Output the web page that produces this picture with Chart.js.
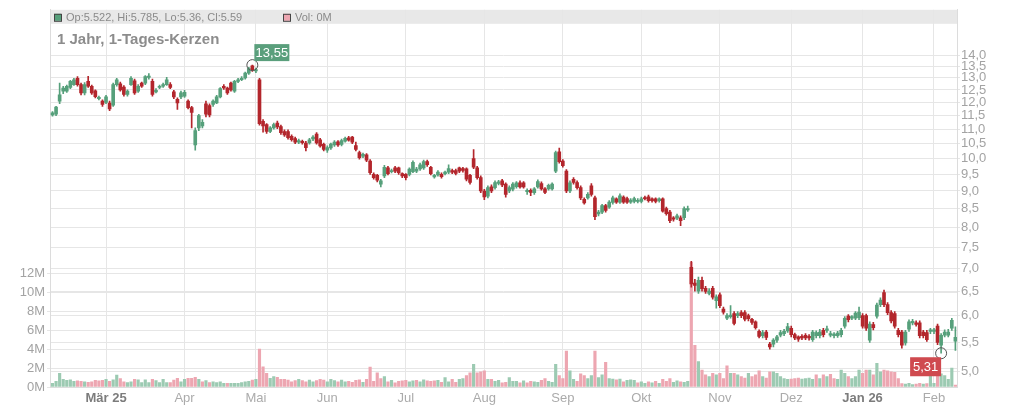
<!DOCTYPE html>
<html lang="de">
<head>
<meta charset="utf-8">
<title>1 Jahr, 1-Tages-Kerzen</title>
<script src="https://cdn.jsdelivr.net/npm/chart.js@4.4.1/dist/chart.umd.min.js"></script>
<style>
  html, body { margin: 0; padding: 0; background: #fff; }
  #wrap { width: 1024px; height: 409px; }
</style>
</head>
<body>
<div id="wrap"><canvas id="kerzen" width="1024" height="409"></canvas></div>
<script>
// Tageskerzen: Eroeffnung, Hoch, Tief, Schluss (EUR) und Volumen (Mio.)
var open = [
  11.52, 11.55, 12.05, 12.45, 12.45, 12.60, 12.72, 12.98, 12.72, 12.38,
  12.85, 12.65, 12.46, 12.15, 12.05, 12.00, 11.98, 11.90, 12.72, 12.75,
  12.62, 12.32, 12.72, 12.88, 12.45, 12.78, 12.78, 13.02, 12.85, 12.42,
  12.60, 12.65, 12.72, 12.72, 12.42, 12.12, 12.22, 12.25, 12.05, 11.80,
  10.45, 11.05, 11.12, 11.95, 11.88, 11.92, 11.98, 12.22, 12.65, 12.58,
  12.78, 12.45, 12.85, 12.92, 13.00, 13.20, 13.52, 13.30, 12.92, 11.29,
  11.17, 10.92, 11.05, 11.22, 11.10, 10.92, 10.92, 10.75, 10.67, 10.55,
  10.58, 10.52, 10.52, 10.66, 10.83, 10.63, 10.47, 10.28, 10.35, 10.45,
  10.56, 10.47, 10.58, 10.70, 10.72, 10.43, 10.20, 10.08, 10.12, 9.92,
  9.50, 9.47, 9.20, 9.45, 9.70, 9.58, 9.70, 9.70, 9.52, 9.50,
  9.50, 9.58, 9.60, 9.67, 9.70, 9.90, 9.72, 9.42, 9.48, 9.50,
  9.52, 9.57, 9.62, 9.62, 9.70, 9.68, 9.67, 9.47, 10.00, 9.70,
  9.40, 9.00, 8.85, 9.12, 9.10, 9.22, 9.30, 9.20, 9.00, 9.05,
  9.13, 9.24, 9.24, 8.98, 9.02, 8.95, 9.12, 9.22, 9.06, 9.06,
  9.06, 9.60, 10.22, 9.92, 9.60, 9.00, 9.35, 9.25, 9.10, 8.76,
  8.80, 9.15, 8.80, 8.35, 8.40, 8.58, 8.54, 8.67, 8.77, 8.68,
  8.82, 8.78, 8.68, 8.70, 8.70, 8.70, 8.80, 8.83, 8.77, 8.77,
  8.72, 8.77, 8.50, 8.40, 8.25, 8.24, 8.25, 8.25, 8.46, 7.02,
  6.67, 6.50, 6.73, 6.56, 6.45, 6.56, 6.30, 6.42, 6.13, 5.95,
  5.98, 6.04, 6.00, 6.06, 6.06, 6.00, 5.93, 5.88, 5.70, 5.62,
  5.69, 5.47, 5.47, 5.54, 5.63, 5.66, 5.71, 5.76, 5.64, 5.60,
  5.61, 5.63, 5.61, 5.55, 5.62, 5.62, 5.72, 5.72, 5.63, 5.62,
  5.62, 5.64, 5.80, 5.99, 5.95, 5.95, 5.96, 6.00, 6.00, 5.54,
  5.83, 5.99, 6.22, 6.47, 6.22, 6.06, 6.04, 5.72, 5.69, 5.49,
  5.74, 5.86, 5.86, 5.86, 5.69, 5.68, 5.70, 5.70, 5.80, 5.45,
  5.63, 5.63, 5.76, 5.522
];
var high = [
  11.65, 11.85, 12.78, 12.65, 12.70, 12.90, 12.98, 13.05, 12.78, 12.80,
  13.07, 12.70, 12.50, 12.25, 12.10, 12.28, 12.05, 12.78, 12.98, 12.82,
  12.68, 12.50, 13.05, 12.95, 12.72, 12.82, 13.10, 13.18, 12.95, 12.55,
  12.70, 12.78, 13.02, 12.80, 12.48, 12.18, 12.45, 12.48, 12.10, 11.85,
  11.05, 11.55, 11.35, 12.05, 11.95, 12.10, 12.28, 12.60, 12.72, 12.62,
  12.82, 12.90, 12.98, 13.05, 13.25, 13.45, 13.55, 13.42, 12.98, 11.35,
  11.20, 11.10, 11.22, 11.30, 11.15, 10.98, 10.98, 10.80, 10.72, 10.65,
  10.62, 10.58, 10.68, 10.78, 10.88, 10.68, 10.52, 10.42, 10.52, 10.60,
  10.60, 10.65, 10.72, 10.75, 10.75, 10.55, 10.25, 10.18, 10.16, 9.97,
  9.55, 9.50, 9.35, 9.78, 9.75, 9.66, 9.75, 9.73, 9.55, 9.52,
  9.70, 9.93, 9.72, 9.85, 9.95, 9.95, 9.75, 9.50, 9.62, 9.55,
  9.60, 9.80, 9.66, 9.66, 9.73, 9.72, 9.70, 9.50, 10.30, 9.75,
  9.45, 9.05, 9.15, 9.18, 9.30, 9.32, 9.35, 9.24, 9.15, 9.25,
  9.28, 9.30, 9.28, 9.06, 9.06, 9.10, 9.33, 9.27, 9.10, 9.20,
  9.24, 10.25, 10.35, 9.97, 9.65, 9.30, 9.40, 9.30, 9.15, 8.80,
  8.95, 9.22, 8.85, 8.45, 8.62, 8.62, 8.72, 8.85, 8.80, 8.92,
  8.86, 8.82, 8.78, 8.82, 8.78, 8.82, 8.85, 8.88, 8.80, 8.80,
  8.80, 8.80, 8.54, 8.45, 8.28, 8.35, 8.30, 8.55, 8.57, 7.16,
  6.75, 6.80, 6.80, 6.60, 6.55, 6.60, 6.42, 6.46, 6.17, 6.04,
  6.20, 6.08, 6.08, 6.10, 6.10, 6.03, 5.95, 5.90, 5.73, 5.72,
  5.72, 5.50, 5.57, 5.63, 5.72, 5.74, 5.85, 5.80, 5.67, 5.62,
  5.64, 5.66, 5.64, 5.72, 5.71, 5.74, 5.76, 5.80, 5.70, 5.68,
  5.70, 5.76, 5.98, 6.02, 6.00, 6.08, 6.17, 6.04, 6.03, 5.88,
  5.87, 6.25, 6.36, 6.52, 6.26, 6.10, 6.08, 5.76, 5.72, 5.72,
  5.92, 5.93, 5.90, 5.90, 5.72, 5.72, 5.76, 5.76, 5.84, 5.66,
  5.73, 5.74, 5.95, 5.785
];
var low = [
  11.48, 11.50, 11.95, 12.35, 12.40, 12.55, 12.68, 12.65, 12.30, 12.30,
  12.60, 12.32, 12.18, 12.10, 11.85, 11.95, 11.68, 11.85, 12.65, 12.45,
  12.25, 12.25, 12.68, 12.32, 12.40, 12.60, 12.72, 12.95, 12.25, 12.38,
  12.55, 12.60, 12.68, 12.55, 12.15, 11.73, 12.15, 12.20, 11.75, 11.05,
  10.28, 10.95, 11.05, 11.45, 11.45, 11.85, 11.95, 12.18, 12.52, 12.32,
  12.45, 12.40, 12.80, 12.88, 12.95, 13.15, 13.28, 13.22, 11.15, 10.90,
  10.85, 10.88, 11.00, 11.02, 10.82, 10.75, 10.65, 10.58, 10.50, 10.50,
  10.48, 10.25, 10.48, 10.60, 10.48, 10.38, 10.25, 10.20, 10.30, 10.40,
  10.40, 10.42, 10.55, 10.58, 10.50, 10.25, 9.98, 10.03, 9.90, 9.50,
  9.35, 9.27, 9.12, 9.40, 9.48, 9.54, 9.55, 9.50, 9.40, 9.33,
  9.45, 9.55, 9.55, 9.62, 9.65, 9.75, 9.48, 9.38, 9.44, 9.38,
  9.48, 9.52, 9.52, 9.48, 9.55, 9.57, 9.30, 9.20, 9.68, 9.35,
  8.95, 8.75, 8.80, 8.95, 9.05, 9.18, 9.13, 8.82, 8.95, 9.00,
  9.08, 9.08, 9.08, 8.90, 8.86, 8.90, 9.08, 9.02, 8.92, 9.02,
  9.02, 9.55, 9.85, 9.72, 8.95, 8.95, 9.20, 9.05, 8.75, 8.62,
  8.76, 8.85, 8.20, 8.30, 8.36, 8.40, 8.50, 8.62, 8.64, 8.64,
  8.64, 8.64, 8.64, 8.66, 8.66, 8.66, 8.74, 8.68, 8.68, 8.66,
  8.68, 8.40, 8.32, 8.12, 8.16, 8.20, 8.04, 8.20, 8.42, 6.58,
  6.50, 6.45, 6.50, 6.45, 6.42, 6.33, 6.15, 6.16, 6.03, 5.92,
  5.95, 5.82, 5.96, 5.96, 5.90, 5.90, 5.83, 5.74, 5.58, 5.58,
  5.55, 5.38, 5.42, 5.50, 5.60, 5.62, 5.68, 5.60, 5.55, 5.52,
  5.55, 5.55, 5.54, 5.52, 5.58, 5.58, 5.60, 5.68, 5.60, 5.58,
  5.59, 5.60, 5.76, 5.88, 5.92, 5.92, 5.92, 5.76, 5.72, 5.50,
  5.73, 5.95, 6.18, 6.18, 6.02, 5.86, 5.76, 5.60, 5.40, 5.45,
  5.70, 5.82, 5.80, 5.58, 5.58, 5.52, 5.66, 5.66, 5.46, 5.31,
  5.60, 5.60, 5.72, 5.36
];
var close = [
  11.60, 11.82, 12.30, 12.58, 12.65, 12.85, 12.92, 12.72, 12.38, 12.72,
  12.65, 12.38, 12.23, 12.20, 11.92, 12.22, 11.75, 12.72, 12.92, 12.50,
  12.32, 12.45, 12.98, 12.38, 12.65, 12.65, 13.05, 13.08, 12.32, 12.48,
  12.65, 12.72, 12.92, 12.60, 12.22, 11.98, 12.38, 12.40, 11.80, 11.62,
  10.95, 11.50, 11.25, 11.55, 11.52, 12.05, 12.22, 12.55, 12.58, 12.38,
  12.50, 12.85, 12.92, 12.98, 13.20, 13.40, 13.35, 13.36, 11.20, 11.12,
  10.92, 11.05, 11.17, 11.08, 10.88, 10.80, 10.70, 10.63, 10.55, 10.60,
  10.53, 10.36, 10.63, 10.72, 10.52, 10.42, 10.30, 10.36, 10.48, 10.55,
  10.45, 10.60, 10.68, 10.62, 10.55, 10.30, 10.03, 10.14, 9.95, 9.55,
  9.40, 9.32, 9.30, 9.72, 9.52, 9.62, 9.60, 9.55, 9.45, 9.40,
  9.66, 9.88, 9.66, 9.80, 9.90, 9.80, 9.52, 9.47, 9.57, 9.43,
  9.57, 9.68, 9.57, 9.53, 9.60, 9.62, 9.35, 9.25, 9.72, 9.40,
  9.00, 8.83, 9.10, 9.00, 9.25, 9.27, 9.18, 8.90, 9.10, 9.20,
  9.24, 9.12, 9.12, 9.02, 8.96, 9.06, 9.28, 9.06, 8.96, 9.17,
  9.20, 10.20, 9.90, 9.77, 9.00, 9.24, 9.25, 9.10, 8.80, 8.66,
  8.90, 8.90, 8.28, 8.40, 8.58, 8.45, 8.68, 8.80, 8.68, 8.86,
  8.68, 8.68, 8.74, 8.78, 8.73, 8.77, 8.78, 8.72, 8.72, 8.70,
  8.77, 8.43, 8.36, 8.17, 8.21, 8.30, 8.17, 8.50, 8.50, 6.65,
  6.62, 6.73, 6.55, 6.49, 6.50, 6.37, 6.38, 6.20, 6.07, 6.00,
  6.01, 5.85, 6.04, 6.00, 5.93, 5.94, 5.87, 5.77, 5.61, 5.68,
  5.59, 5.42, 5.54, 5.60, 5.68, 5.70, 5.79, 5.64, 5.58, 5.56,
  5.58, 5.58, 5.58, 5.69, 5.68, 5.69, 5.64, 5.75, 5.66, 5.65,
  5.67, 5.72, 5.95, 5.92, 5.98, 6.05, 6.07, 5.80, 5.76, 5.84,
  5.77, 6.21, 6.31, 6.22, 6.06, 5.90, 5.80, 5.64, 5.45, 5.69,
  5.88, 5.89, 5.83, 5.62, 5.62, 5.55, 5.73, 5.73, 5.50, 5.63,
  5.69, 5.69, 5.91, 5.59
];
var volume = [
  0.4, 0.6, 1.45, 0.8, 0.7, 0.75, 0.6, 0.65, 0.6, 0.55,
  0.5, 0.55, 0.7, 0.65, 0.7, 0.8, 0.6, 0.75, 1.25, 0.9,
  0.55, 0.46, 0.56, 0.8, 0.75, 0.46, 0.75, 0.46, 0.8, 0.67,
  0.46, 0.8, 0.46, 0.46, 0.74, 0.91, 0.56, 0.81, 0.91, 0.91,
  1.02, 0.81, 0.56, 0.67, 0.46, 0.56, 0.46, 0.56, 0.4, 0.4,
  0.4, 0.4, 0.4, 0.46, 0.56, 0.6, 0.74, 0.81, 4.0, 2.14,
  1.44, 0.91, 1.09, 1.02, 0.81, 0.81, 0.74, 0.56, 0.67, 0.81,
  0.67, 0.56, 0.74, 0.56, 0.67, 0.81, 0.74, 0.56, 0.81, 0.67,
  0.56, 0.74, 0.56, 0.6, 0.5, 0.7, 0.75, 0.5, 0.8, 2.1,
  0.6, 1.5, 0.9, 1.1, 0.55, 0.7, 0.45, 0.6, 0.65, 0.7,
  0.55, 0.65, 0.7, 0.55, 0.75, 0.65, 0.6, 0.65, 0.7, 0.5,
  1.0, 0.55, 0.8, 0.5, 0.8, 0.9, 1.2, 1.5, 2.4, 1.5,
  1.6, 1.7, 0.8, 0.8, 0.6, 0.7, 0.45, 0.5, 1.0, 0.6,
  0.6, 0.45, 0.65, 0.45, 0.6, 0.55, 0.5, 0.7, 0.9, 0.6,
  0.5, 2.4, 1.2, 0.9, 3.8, 1.7, 0.8, 0.6, 1.4, 1.2,
  0.9, 1.2, 3.8, 1.0, 1.3, 2.6, 0.9, 0.85, 0.75, 0.85,
  0.55, 0.7, 0.75, 0.7, 0.45, 0.55, 0.4, 0.55, 0.45, 0.6,
  0.4, 0.8, 0.6, 0.9, 0.5, 0.65, 0.55, 0.5, 0.6, 13.2,
  4.4, 2.7, 1.8, 1.3, 1.1, 1.45, 1.3, 1.45, 0.9, 2.25,
  1.45, 1.45, 1.3, 1.1, 0.95, 1.45, 1.1, 1.3, 1.7, 1.1,
  0.95, 1.6, 1.6, 1.45, 1.1, 0.9, 0.8, 0.85, 0.9, 0.95,
  0.85, 0.9, 0.95, 0.8, 1.3, 0.9, 1.3, 1.1, 1.35, 0.9,
  0.8, 1.8, 1.45, 1.1, 0.9, 1.1, 1.8, 1.45, 1.8, 1.8,
  1.3, 2.5, 1.6, 1.8, 1.7, 1.6, 1.55, 0.9, 0.35, 0.3,
  0.4, 0.25, 0.3, 0.4, 0.3, 0.35, 1.3, 0.4, 1.8, 1.4,
  1.2, 0.8, 2.0, 0.2
];

// Monatsanfaenge (Index des ersten Handelstags) und Beschriftungen
var monthIdx = [15, 37, 57, 77, 99, 121, 143, 165, 187, 207, 227, 247];
var monthLabels = ['Mär 25', 'Apr', 'Mai', 'Jun', 'Jul', 'Aug', 'Sep', 'Okt', 'Nov', 'Dez', 'Jan 26', 'Feb'];
var priceTicks = [5, 5.5, 6, 6.5, 7, 7.5, 8, 8.5, 9, 9.5, 10, 10.5, 11, 11.5, 12, 12.5, 13, 13.5, 14];
var volTicks = [0, 2, 4, 6, 8, 10, 12];

var green = '#56a07b', red = '#b3262c', volGreen = '#9ccab2', volRed = '#eda6b1';
var gridColor = '#e6e6e6', tickColor = '#a3a3a3';

var up = close.map(function (c, i) { return c >= open[i]; });
var volUp = close.map(function (c, i) { return c >= (i ? close[i - 1] : open[i]); });

var bodies = close.map(function (c, i) {
  return { x: i, y: [Math.min(open[i], c), Math.max(open[i], c)] };
});
var wicks = high.map(function (h, i) { return { x: i, y: [low[i], h] }; });
var vols = volume.map(function (v, i) { return { x: i, y: v }; });

function fmt(v) { return v.toFixed(2).replace('.', ','); }

var extras = {
  id: 'extras',
  beforeDraw: function (chart) {
    var c = chart.ctx, a = chart.chartArea;
    c.save();
    c.fillStyle = '#e8e8e8';
    c.fillRect(a.left, a.top, a.right - a.left, 14);
    c.restore();
  },
  afterDraw: function (chart) {
    var c = chart.ctx, a = chart.chartArea;
    var n = close.length - 1;
    c.save();
    // Kopfzeile
    c.font = '11px "Liberation Sans", Arial, sans-serif';
    c.textBaseline = 'middle';
    c.fillStyle = green;
    c.fillRect(a.left + 4, a.top + 4, 7, 7);
    c.strokeStyle = '#444';
    c.lineWidth = 1;
    c.strokeRect(a.left + 4.5, a.top + 4.5, 7, 7);
    c.fillStyle = '#8a8a8a';
    c.fillText('Op:' + open[n] + ', Hi:' + high[n] + ', Lo:' + low[n] + ', Cl:' + close[n], a.left + 16, a.top + 8);
    c.fillStyle = volRed;
    c.fillRect(a.left + 233, a.top + 4, 7, 7);
    c.strokeRect(a.left + 233.5, a.top + 4.5, 7, 7);
    c.fillStyle = '#8a8a8a';
    c.fillText('Vol: ' + Math.round(volume[n]) + 'M', a.left + 245, a.top + 8);
    // Titel
    c.font = 'bold 15px "Liberation Sans", Arial, sans-serif';
    c.fillStyle = '#8c8c8c';
    c.textBaseline = 'alphabetic';
    c.fillText('1 Jahr, 1-Tages-Kerzen', a.left + 7, a.top + 34);

    // Hoch- und Tiefpunkt markieren
    var xs = chart.scales.x, ys = chart.scales.y;
    var hi = high.indexOf(Math.max.apply(null, high));
    var lo = low.indexOf(Math.min.apply(null, low));
    var hx = xs.getPixelForValue(hi), hy = ys.getPixelForValue(high[hi]);
    var lx = xs.getPixelForValue(lo), ly = ys.getPixelForValue(low[lo]);
    c.strokeStyle = '#555';
    c.lineWidth = 1;
    c.beginPath(); c.arc(hx, hy, 5.5, 0, Math.PI * 2); c.stroke();
    c.beginPath(); c.arc(lx, ly, 5.5, 0, Math.PI * 2); c.stroke();
    c.font = '13px "Liberation Sans", Arial, sans-serif';
    c.textAlign = 'center';
    c.textBaseline = 'middle';
    c.fillStyle = '#5a9f7c';
    c.fillRect(hx + 2, hy - 21, 35, 17);
    c.fillStyle = '#fff';
    c.fillText(fmt(high[hi]), hx + 19.5, hy - 12);
    c.fillStyle = '#cf4a4f';
    c.fillRect(lx - 31, ly + 4, 31, 19);
    c.fillStyle = '#fff';
    c.fillText(fmt(low[lo]), lx - 15.5, ly + 14);
    c.restore();
  }
};

new Chart(document.getElementById('kerzen').getContext('2d'), {
  type: 'bar',
  data: {
    datasets: [
      {
        label: 'Kerze',
        data: bodies,
        backgroundColor: up.map(function (u) { return u ? green : red; }),
        barThickness: 3,
        minBarLength: 1,
        grouped: false,
        yAxisID: 'y',
        order: 1
      },
      {
        label: 'Docht',
        data: wicks,
        backgroundColor: up.map(function (u) { return u ? green : red; }),
        barThickness: 1,
        grouped: false,
        yAxisID: 'y',
        order: 2
      },
      {
        label: 'Volumen',
        data: vols,
        backgroundColor: volUp.map(function (u) { return u ? volGreen : volRed; }),
        barThickness: 2.5,
        grouped: false,
        yAxisID: 'v',
        order: 3
      }
    ]
  },
  options: {
    responsive: false,
    animation: false,
    layout: { padding: { top: 8, left: 0, right: 0, bottom: 0 } },
    plugins: { legend: { display: false }, tooltip: { enabled: false } },
    scales: {
      x: {
        type: 'linear',
        min: -0.7,
        max: 253.45,
        offset: false,
        afterBuildTicks: function (s) { s.ticks = monthIdx.map(function (v) { return { value: v }; }); },
        afterFit: function (s) { s.height = 22; },
        grid: { color: gridColor, offset: false, drawTicks: false },
        border: { color: '#dcdcdc' },
        ticks: {
          autoSkip: false,
          maxRotation: 0,
          padding: 4,
          callback: function (v) { return monthLabels[monthIdx.indexOf(v)]; },
          color: function (ctx) {
            var l = ctx.tick ? monthLabels[monthIdx.indexOf(ctx.tick.value)] : '';
            return /\d/.test(l || '') ? '#7c7c7c' : '#ababab';
          },
          font: function (ctx) {
            var l = ctx.tick ? monthLabels[monthIdx.indexOf(ctx.tick.value)] : '';
            return { family: '"Liberation Sans Narrow", "Arial Narrow", sans-serif', size: 13, weight: /\d/.test(l || '') ? 'bold' : 'normal' };
          }
        }
      },
      y: {
        type: 'logarithmic',
        position: 'right',
        min: 4.758,
        max: 16.22,
        afterBuildTicks: function (s) { s.ticks = priceTicks.map(function (v) { return { value: v }; }); },
        afterFit: function (s) { s.width = 67; },
        grid: { color: gridColor, tickLength: 3 },
        border: { color: '#dcdcdc' },
        ticks: {
          padding: 1,
          color: tickColor,
          font: { family: '"Liberation Sans", Arial, sans-serif', size: 13 },
          callback: function (v) { return Number(v).toFixed(1).replace('.', ','); }
        }
      },
      v: {
        type: 'linear',
        position: 'left',
        min: 0,
        max: 39.9,
        afterBuildTicks: function (s) { s.ticks = volTicks.map(function (v) { return { value: v }; }); },
        afterFit: function (s) { s.width = 50; },
        grid: { color: gridColor, tickLength: 3 },
        border: { color: '#dcdcdc' },
        ticks: {
          padding: 2,
          color: tickColor,
          font: { family: '"Liberation Sans", Arial, sans-serif', size: 13 },
          callback: function (v) { return v + 'M'; }
        }
      }
    }
  },
  plugins: [extras]
});
</script>
</body>
</html>
